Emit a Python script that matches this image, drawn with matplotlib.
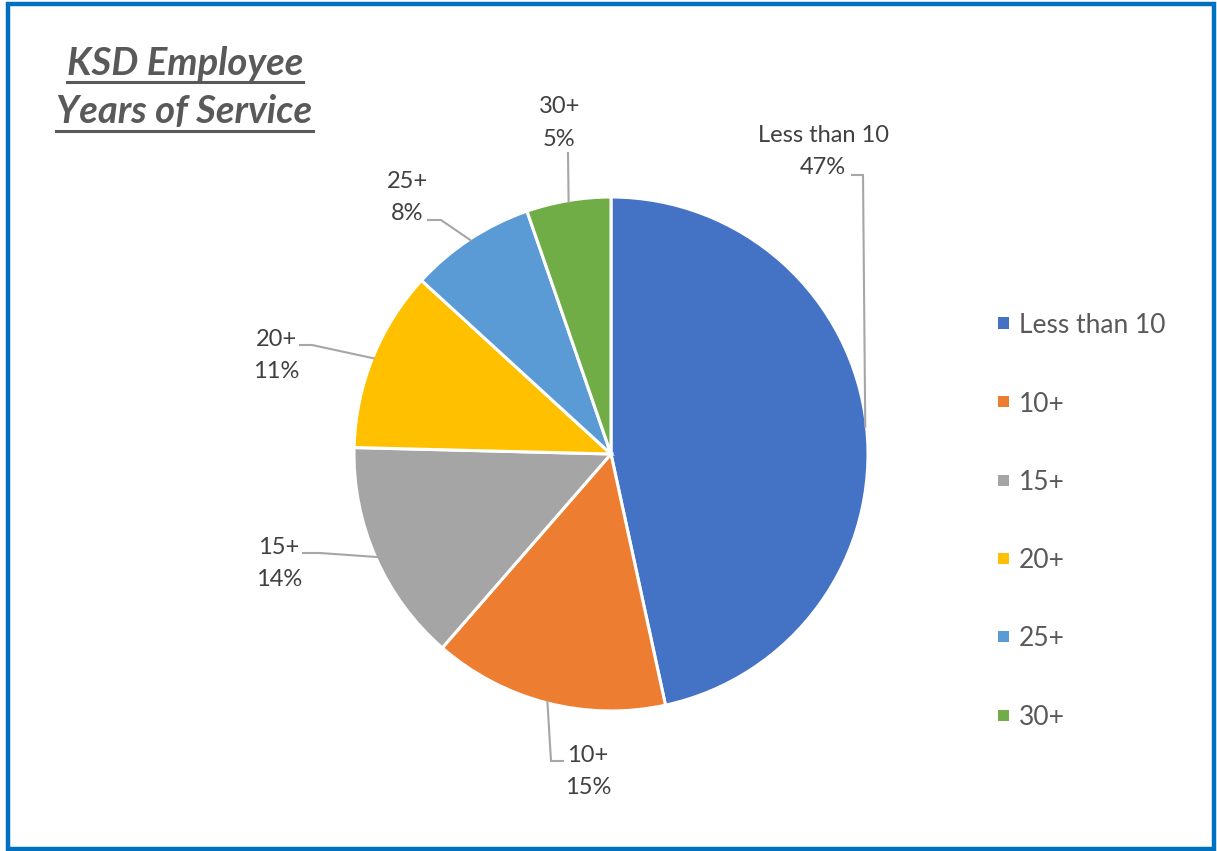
import matplotlib
matplotlib.use("Agg")
import matplotlib.pyplot as plt
from matplotlib.patches import Rectangle
from matplotlib.lines import Line2D
import numpy as np

# Employee years of service distribution (percent of staff)
categories = ["Less than 10", "10+", "15+", "20+", "25+", "30+"]
shares = [46.6, 14.8, 14.0, 11.4, 7.9, 5.3]
colors = ["#4472C4", "#ED7D31", "#A5A5A5", "#FFC000", "#5B9BD5", "#70AD47"]
title_lines = ["KSD Employee", "Years of Service"]

W, H = 1217, 851
FONT = "Lato"
LABEL_COLOR = "#404040"
LEGEND_COLOR = "#595959"
LEADER_COLOR = "#A6A6A6"

fig = plt.figure(figsize=(W / 100, H / 100), dpi=100)
fig.patch.set_facecolor("white")


def fx(px):
    return px / W


def fy(py):
    return 1 - py / H


# pie axes: square box of 514 px centred at (611, 454)
ax = fig.add_axes([fx(354), fy(711), 514 / W, 514 / H])
wedges, _ = ax.pie(
    shares,
    colors=colors,
    startangle=90,
    counterclock=False,
    radius=1.0,
    wedgeprops=dict(edgecolor="white", linewidth=2.2),
)
ax.set_xlim(-1, 1)
ax.set_ylim(-1, 1)
ax.set_aspect("equal")
ax.axis("off")


def to_data(px, py):
    return (px - 611) / 257, (454 - py) / 257


# data labels: (centre x, first baseline) in pixels, and leader path before the wedge
label_pos = [(823, 142), (588, 762), (279, 554), (276, 346), (407.5, 188), (559.5, 113)]
leader_paths = [
    [(852, 175), (863, 175)],
    [(563, 761), (551, 761)],
    [(303, 553), (320, 553)],
    [(300, 345), (312, 345)],
    [(428, 220), (441, 220)],
    [(568, 153)],
]

total = sum(shares)
for i, (cat, val) in enumerate(zip(categories, shares)):
    w = wedges[i]
    mid = np.deg2rad((w.theta1 + w.theta2) / 2)
    end = (np.cos(mid) * 0.995, np.sin(mid) * 0.995)
    pts = [to_data(*p) for p in leader_paths[i]] + [end]
    xs, ys = zip(*pts)
    ax.add_line(Line2D(xs, ys, color=LEADER_COLOR, lw=1.5, clip_on=False,
                       solid_joinstyle="miter"))
    cx, b1 = label_pos[i]
    x1, y1 = to_data(cx, b1)
    x2, y2 = to_data(cx, b1 + 32.5)
    pct = f"{round(100 * val / total)}%"
    ax.text(x1, y1, cat, ha="center", va="baseline", fontsize=17,
            family=FONT, color=LABEL_COLOR, clip_on=False)
    ax.text(x2, y2, pct, ha="center", va="baseline", fontsize=17,
            family=FONT, color=LABEL_COLOR, clip_on=False)

# legend on the right
legend_rows = [323, 402, 480, 558, 636, 715]
for cat, col, ry in zip(categories, colors, legend_rows):
    fig.patches.append(Rectangle((fx(998), fy(ry + 5.5)), 11 / W, 11 / H,
                                 transform=fig.transFigure, facecolor=col,
                                 edgecolor="none"))
    fig.text(fx(1019), fy(ry), cat, ha="left", va="center_baseline",
             fontsize=19, family=FONT, color=LEGEND_COLOR)

# underlined title
fig.canvas.draw()
renderer = fig.canvas.get_renderer()
title_specs = [(185, 75, 82), (184.5, 123, 131)]
for line, (cx, base, uy) in zip(title_lines, title_specs):
    t = fig.text(fx(cx), fy(base), line, ha="center", va="baseline",
                 fontsize=27.5, family=FONT, style="italic", weight="bold",
                 color="#595959")
    bb = t.get_window_extent(renderer)
    x0, x1 = bb.x0 / W, bb.x1 / W
    fig.add_artist(Line2D([x0, x1], [fy(uy), fy(uy)], transform=fig.transFigure,
                          color="#595959", lw=2.2))

# outer frame
fig.patches.append(Rectangle((fx(7.5), fy(848.5)), (1213.5 - 7.5) / W,
                             (848.5 - 3.5) / H, transform=fig.transFigure,
                             facecolor="none", edgecolor="#0070C0", lw=3.2))

fig.savefig("out.png", dpi=100, facecolor="white")
